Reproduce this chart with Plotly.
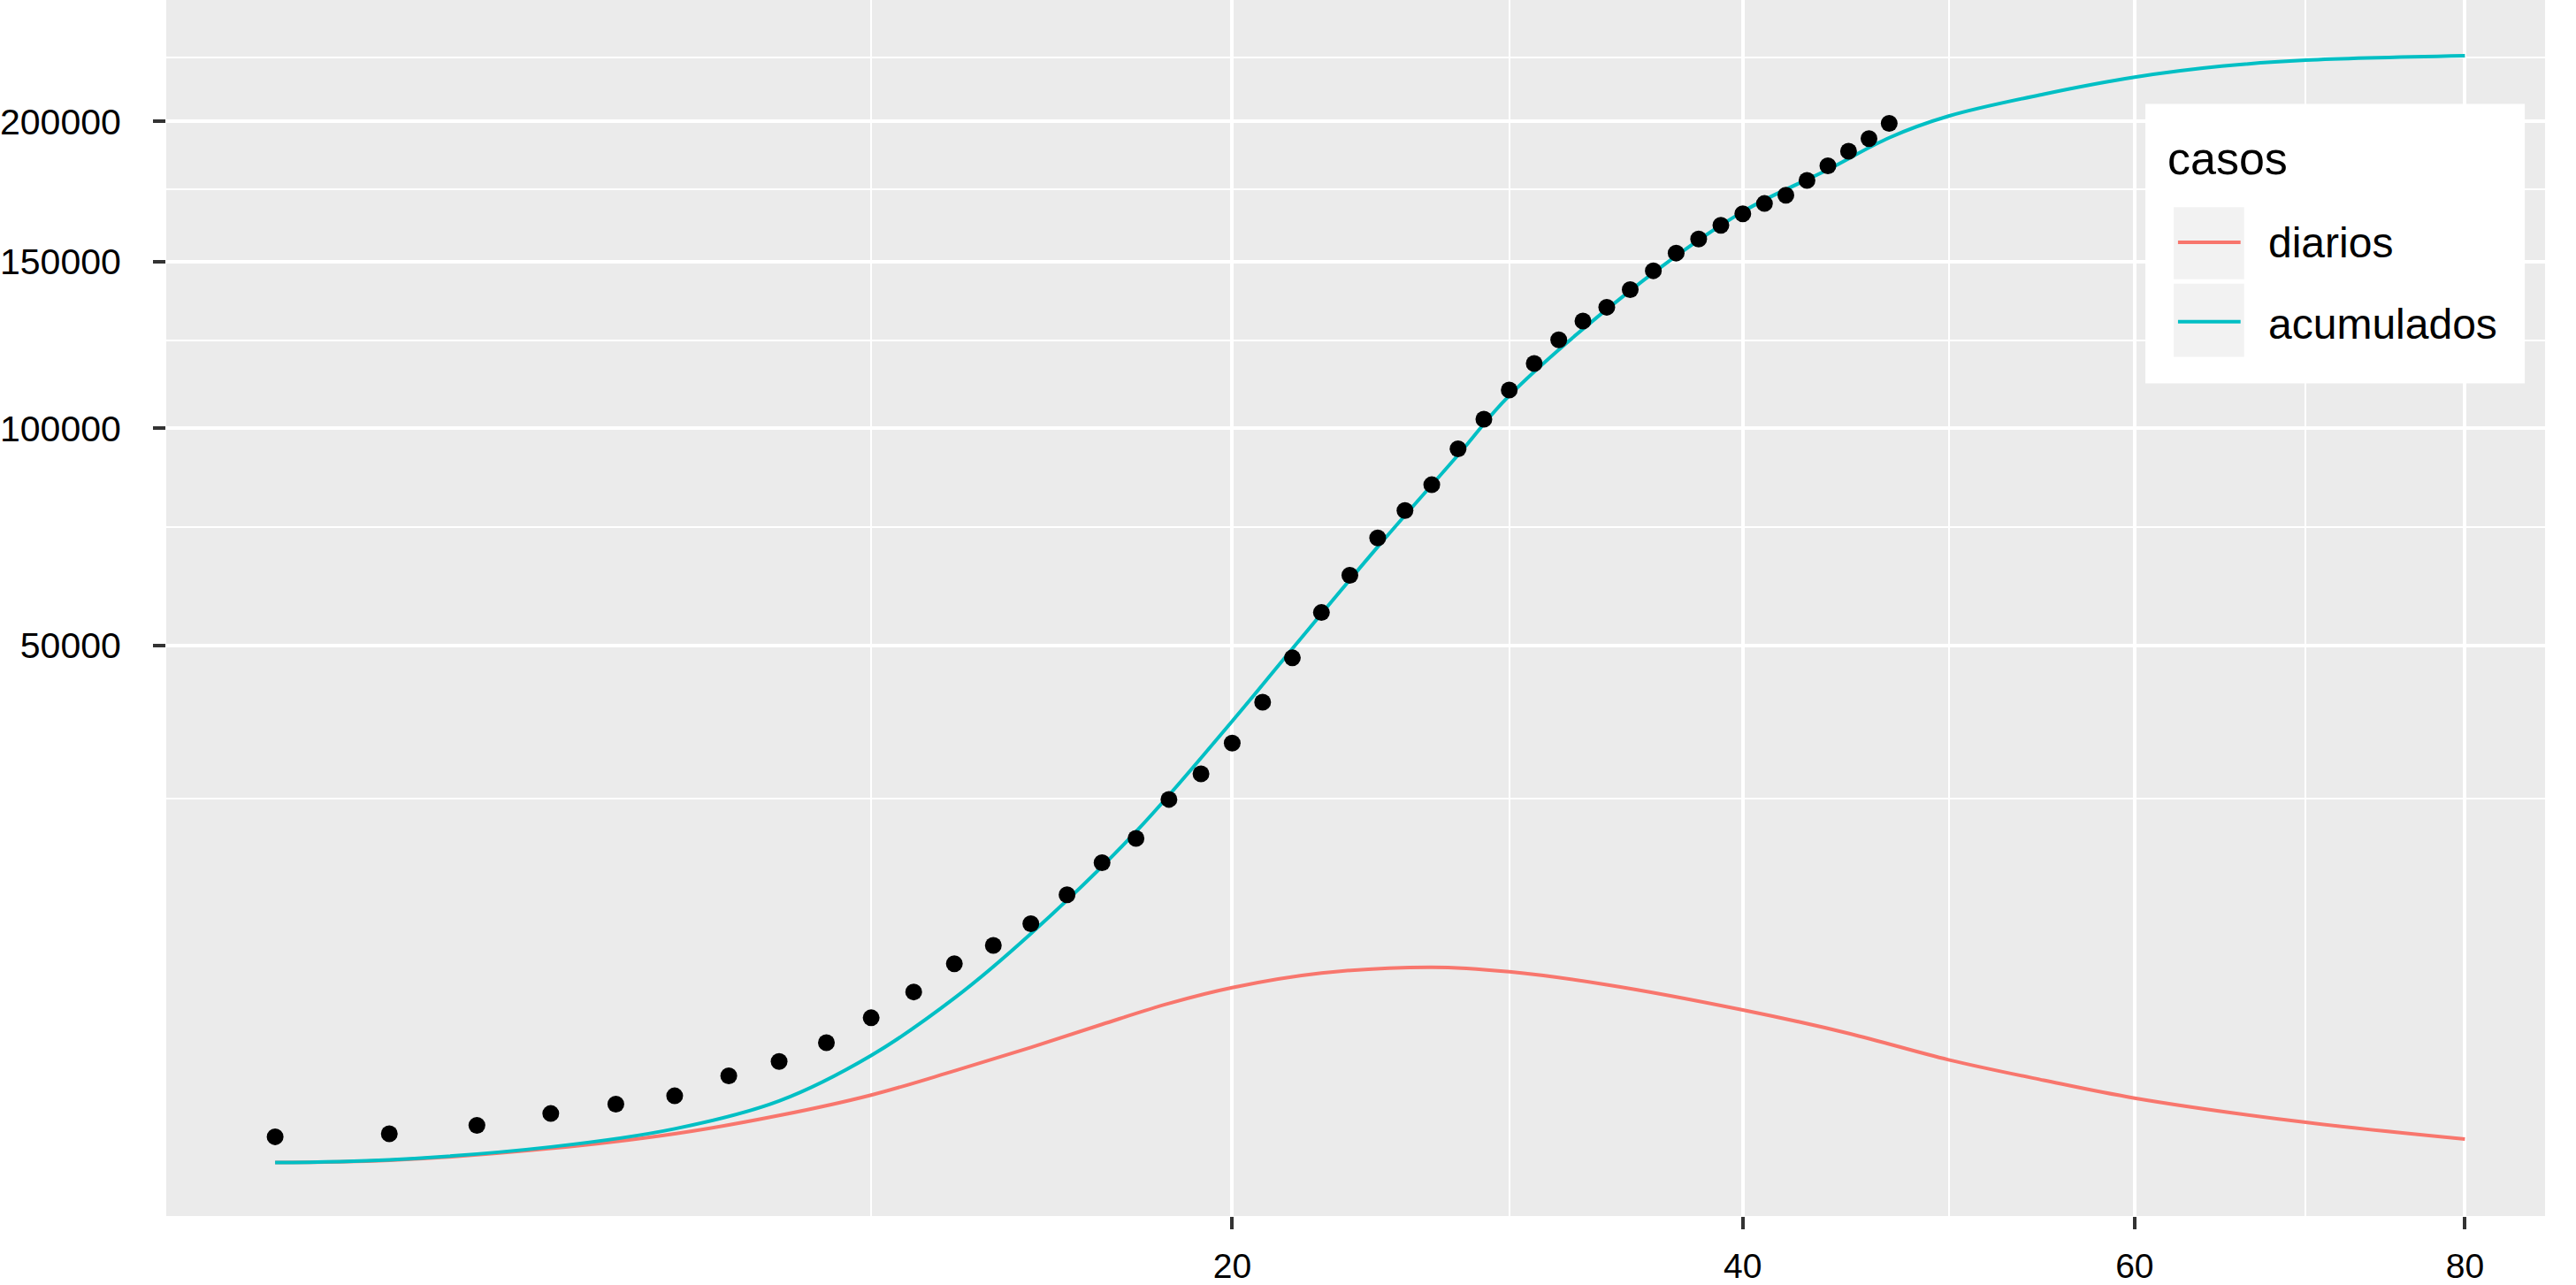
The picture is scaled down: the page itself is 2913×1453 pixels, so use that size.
import numpy as np
import plotly.graph_objects as go

# observed cumulative cases (black dots)
dias_obs = list(range(1, 48))
casos_obs = [191, 228, 350, 564, 769, 979, 1584, 2111, 2914, 4173,
             5720, 7681, 9126, 10973, 13714, 17109, 19937, 24909, 28466, 33066,
             39723, 47622, 56439, 64255, 72582, 79040, 85329, 94537, 102472, 110584,
             118236, 125300, 131052, 135329, 140936, 147034, 152878, 157606, 162300, 166256,
             169861, 172760, 178085, 183364, 188723, 193424, 199245]

# model curve: cumulative
dias_acum = [1, 2, 4, 6, 8, 10, 12, 14, 17, 20, 22, 25, 28, 30, 35, 40, 44, 47, 50, 55, 60, 65, 70, 80]
acumulados = [8, 16, 90, 297, 848, 2355, 5325, 10100, 20750, 36560, 49350, 70530, 92900, 109000,
              140600, 167000, 182000, 193800, 202000, 210500, 217200, 221600, 224000, 225800]

# model curve: daily
dias_diar = [1, 2, 4, 6, 8, 10, 12, 14, 16, 18, 20, 23, 27, 30, 34, 40, 45, 50, 55, 60, 70, 80]
diarios = [8, 14, 78, 228, 525, 1000, 1760, 2700, 3820, 5000, 6000, 7000, 7430, 7100,
           6200, 4620, 3360, 2180, 1440, 920, 400, 165]

# axis breaks (sqrt scale on both axes)
x_major = [20, 40, 60, 80]
x_minor = [10, 30, 50, 70]
y_major = [50000, 100000, 150000, 200000]
y_minor = [25000, 75000, 125000, 175000, 225000]

RED = '#F8766D'
CYAN = '#00BFC4'
FONT = 'Liberation Sans, Arial, Helvetica, sans-serif'

fig = go.Figure()

fig.add_trace(go.Scatter(
    x=np.sqrt(dias_diar), y=np.sqrt(diarios), mode='lines', name='diarios',
    line=dict(color=RED, width=4, shape='spline', smoothing=1)
))
fig.add_trace(go.Scatter(
    x=np.sqrt(dias_acum), y=np.sqrt(acumulados), mode='lines', name='acumulados',
    line=dict(color=CYAN, width=4, shape='spline', smoothing=1)
))
fig.add_trace(go.Scatter(
    x=np.sqrt(dias_obs), y=np.sqrt(casos_obs), mode='markers', name='observados',
    marker=dict(color='black', size=19)
))

axis_common = dict(
    showline=False, zeroline=False, showgrid=True,
    gridcolor='white', gridwidth=4,
    ticks='outside', ticklen=14, tickwidth=4, tickcolor='#333333',
    tickfont=dict(family=FONT, color='black'),
)

fig.update_xaxes(
    **axis_common,
    range=[0.605, 9.235],
    tickmode='array', tickvals=np.sqrt(x_major), ticktext=[str(v) for v in x_major],
    tickfont_size=39, ticklabelstandoff=8,
    minor=dict(tickmode='array', tickvals=np.sqrt(x_minor), showgrid=True,
               gridcolor='white', gridwidth=2, ticks=''),
)
fig.update_yaxes(
    **axis_common,
    range=[-20, 499],
    tickmode='array', tickvals=np.sqrt(y_major), ticktext=[str(v) for v in y_major],
    tickfont_size=41, ticklabelstandoff=28,
    minor=dict(tickmode='array', tickvals=np.sqrt(y_minor), showgrid=True,
               gridcolor='white', gridwidth=2, ticks=''),
)

# legend drawn by hand to match the ggplot guide box
shapes = [
    dict(type='rect', xref='paper', yref='paper', x0=0.8320, x1=0.9915, y0=0.6848, y1=0.9145,
         fillcolor='white', line=dict(width=0), layer='above'),
    dict(type='rect', xref='paper', yref='paper', x0=0.8439, x1=0.8735, y0=0.7703, y1=0.8297,
         fillcolor='#F2F2F2', line=dict(width=0), layer='above'),
    dict(type='rect', xref='paper', yref='paper', x0=0.8439, x1=0.8735, y0=0.7065, y1=0.7667,
         fillcolor='#F2F2F2', line=dict(width=0), layer='above'),
    dict(type='line', xref='paper', yref='paper', x0=0.8457, x1=0.8720, y0=0.8007, y1=0.8007,
         line=dict(color=RED, width=4), layer='above'),
    dict(type='line', xref='paper', yref='paper', x0=0.8457, x1=0.8720, y0=0.7355, y1=0.7355,
         line=dict(color=CYAN, width=4), layer='above'),
]
annotations = [
    dict(text='casos', xref='paper', yref='paper', x=0.8405, y=0.8695, xanchor='left', yanchor='middle',
         showarrow=False, font=dict(family=FONT, size=52, color='black')),
    dict(text='diarios', xref='paper', yref='paper', x=0.8828, y=0.800, xanchor='left', yanchor='middle',
         showarrow=False, font=dict(family=FONT, size=48, color='black')),
    dict(text='acumulados', xref='paper', yref='paper', x=0.8828, y=0.7333, xanchor='left', yanchor='middle',
         showarrow=False, font=dict(family=FONT, size=48, color='black')),
]

fig.update_layout(
    width=2913, height=1453, autosize=False,
    margin=dict(l=182, r=35, t=0, b=73),
    plot_bgcolor='#EBEBEB', paper_bgcolor='white',
    showlegend=False,
    shapes=shapes, annotations=annotations,
    font=dict(family=FONT),
)

fig.write_html("out.html", config={'displayModeBar': False},
               post_script="document.body.style.margin='0';")
